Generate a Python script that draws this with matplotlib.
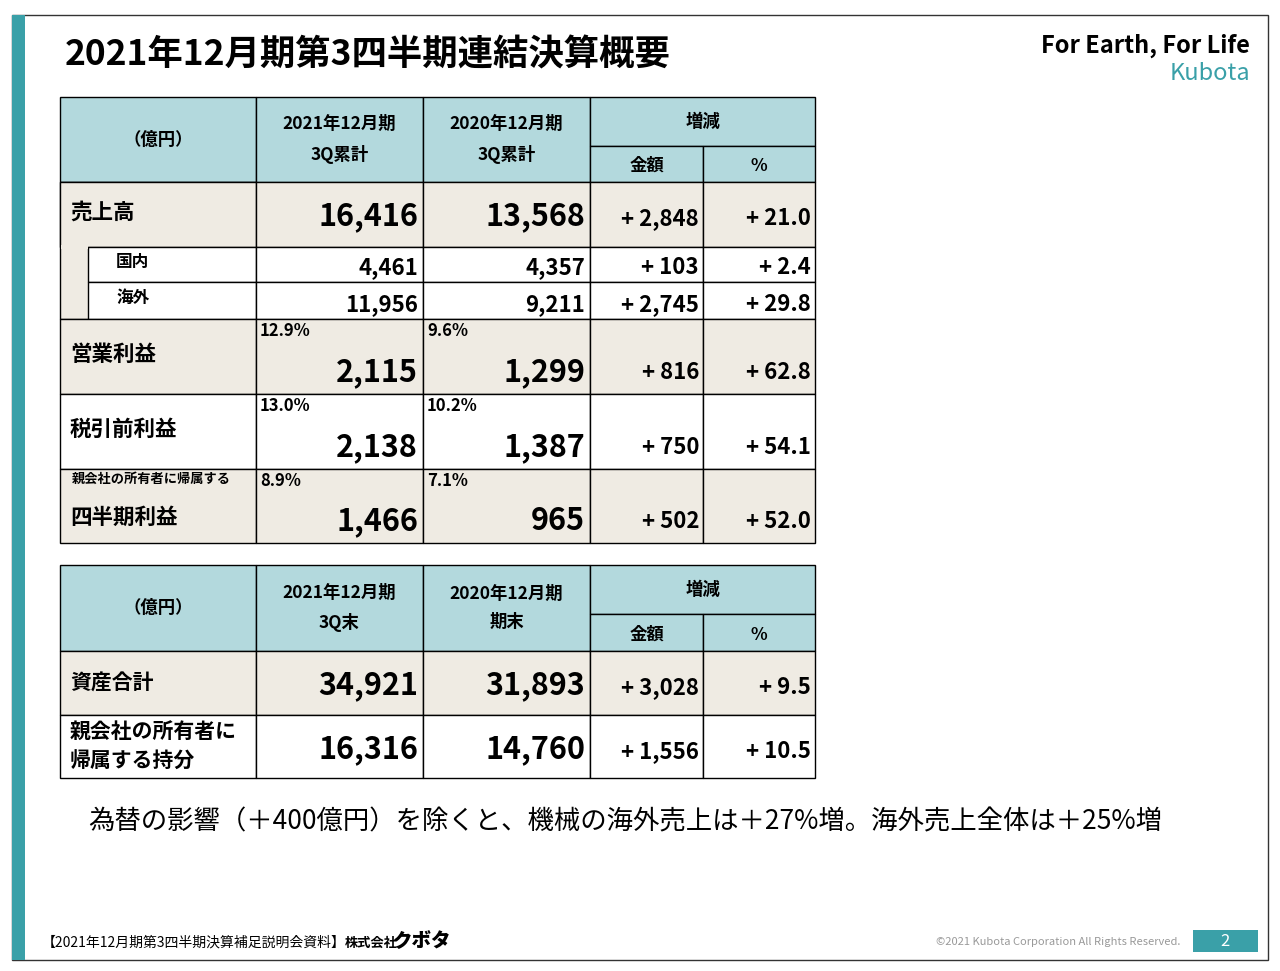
import matplotlib
matplotlib.use("Agg")
import matplotlib.pyplot as plt
from matplotlib.patches import Rectangle

plt.rcParams['font.family'] = ['Noto Sans CJK JP', 'DejaVu Sans']

title = "2021年12月期第3四半期連結決算概要"
labels1 = ["売上高", "国内", "海外", "営業利益", "税引前利益", "四半期利益"]
cur1 = ["16,416", "4,461", "11,956", "2,115", "2,138", "1,466"]
prev1 = ["13,568", "4,357", "9,211", "1,299", "1,387", "965"]
diff1 = ["+ 2,848", "+ 103", "+ 2,745", "+ 816", "+ 750", "+ 502"]
pct1 = ["+ 21.0", "+ 2.4", "+ 29.8", "+ 62.8", "+ 54.1", "+ 52.0"]
margin_cur = [None, None, None, "12.9%", "13.0%", "8.9%"]
margin_prev = [None, None, None, "9.6%", "10.2%", "7.1%"]
labels2 = ["資産合計", "親会社の所有者に\n帰属する持分"]
cur2 = ["34,921", "16,316"]
prev2 = ["31,893", "14,760"]
diff2 = ["+ 3,028", "+ 1,556"]
pct2 = ["+ 9.5", "+ 10.5"]

HDR = "#b3d9dd"; BEI = "#efebe3"; TEAL = "#3aa0a8"
fig = plt.figure(figsize=(12.8, 9.71), dpi=100)
ax = fig.add_axes([0, 0, 1, 1]); ax.set_xlim(0, 1280); ax.set_ylim(971, 0); ax.axis('off')

ax.add_patch(Rectangle((12, 15), 1256, 945, fill=False, ec="#333333", lw=1))
ax.add_patch(Rectangle((12, 15), 13, 945, fc=TEAL, ec="none"))
ax.text(65, 55, title, fontsize=25.5, fontweight='bold', va='center')
ax.text(1250, 46, "For Earth, For Life", fontsize=17, fontweight='bold', ha='right', va='center')
ax.text(1250, 73, "Kubota", fontsize=17, color=TEAL, ha='right', va='center')

X = [60, 256, 423, 590, 703, 815]

def cell(x0, y0, x1, y1, fc):
    ax.add_patch(Rectangle((x0, y0), x1 - x0, y1 - y0, fc=fc, ec="black", lw=1))

def header(y0, ysplit, y1, c1, c2):
    cell(X[0], y0, X[1], y1, HDR)
    cell(X[1], y0, X[2], y1, HDR)
    cell(X[2], y0, X[3], y1, HDR)
    cell(X[3], y0, X[5], ysplit, HDR)
    cell(X[3], ysplit, X[4], y1, HDR)
    cell(X[4], ysplit, X[5], y1, HDR)
    kw = dict(fontsize=12.5, fontweight='bold', ha='center', va='center', linespacing=1.75)
    ax.text((X[0] + X[1]) / 2, (y0 + y1) / 2, "（億円）", **kw)
    ax.text((X[1] + X[2]) / 2, (y0 + y1) / 2, c1, **kw)
    ax.text((X[2] + X[3]) / 2, (y0 + y1) / 2, c2, **kw)
    ax.text((X[3] + X[5]) / 2, (y0 + ysplit) / 2, "増減", **kw)
    ax.text((X[3] + X[4]) / 2, (ysplit + y1) / 2 + 2, "金額", **kw)
    ax.text((X[4] + X[5]) / 2, (ysplit + y1) / 2 + 2, "%", **kw)

# Table 1
header(97, 146, 182, "2021年12月期\n3Q累計", "2020年12月期\n3Q累計")
Y1 = [182, 247, 282, 319, 394, 469, 543]
fills1 = [BEI, "white", "white", BEI, "white", BEI]
ax.add_patch(Rectangle((X[0], 182), X[1] - X[0], 137, fc=BEI, ec="black", lw=1))
for i in range(len(labels1)):
    y0, y1 = Y1[i], Y1[i + 1]
    sub = i in (1, 2)
    xl = 88 if sub else X[0]
    cell(xl, y0, X[1], y1, "white" if sub else fills1[i])
    if i == 0:
        ax.add_patch(Rectangle((X[0] + 1, y1 - 2), 27, 4, fc=BEI, ec="none", zorder=3))
    for c in range(1, 5):
        cell(X[c], y0, X[c + 1], y1, fills1[i])
    big = not sub
    fs = 22 if big else 16
    if i == 0:
        base = y0 + 43
    elif sub:
        base = y1 - 8
    else:
        base = y1 - 13
    dbase = base if (i < 3) else base - 2
    lab_fs = 15.5 if big else 12
    if i == 5:
        ax.text(X[0] + 12, y0 + 10, "親会社の所有者に帰属する", fontsize=9.5, fontweight='bold', va='center')
        ax.text(X[0] + 10, y0 + 48, labels1[i], fontsize=lab_fs, fontweight='bold', va='center')
    else:
        ax.text(xl + (28 if sub else 10), (y0 + y1) / 2 - (2 if not sub else 3), labels1[i], fontsize=lab_fs, fontweight='bold', va='center')
    ax.text(X[2] - 5, base, cur1[i], fontsize=fs, fontweight='bold', ha='right', va='baseline')
    ax.text(X[3] - 5, base, prev1[i], fontsize=fs, fontweight='bold', ha='right', va='baseline')
    ax.text(X[4] - 4, dbase, diff1[i], fontsize=16, fontweight='bold', ha='right', va='baseline')
    ax.text(X[5] - 4, dbase, pct1[i], fontsize=16, fontweight='bold', ha='right', va='baseline')
    if margin_cur[i]:
        ax.text(X[1] + 4, y0 + 12, margin_cur[i], fontsize=12, fontweight='bold', va='center')
        ax.text(X[2] + 4, y0 + 12, margin_prev[i], fontsize=12, fontweight='bold', va='center')

# Table 2
header(565, 614, 651, "2021年12月期\n3Q末", "2020年12月期\n期末")
Y2 = [651, 715, 778]
fills2 = [BEI, "white"]
for i in range(len(labels2)):
    y0, y1 = Y2[i], Y2[i + 1]
    for c in range(5):
        cell(X[c], y0, X[c + 1], y1, fills2[i])
    ax.text(X[0] + 10, (y0 + y1) / 2, labels2[i], fontsize=15, fontweight='bold', va='center', linespacing=1.5)
    base = y0 + 43
    ax.text(X[2] - 5, base, cur2[i], fontsize=22, fontweight='bold', ha='right', va='baseline')
    ax.text(X[3] - 5, base, prev2[i], fontsize=22, fontweight='bold', ha='right', va='baseline')
    ax.text(X[4] - 4, base, diff2[i], fontsize=16, fontweight='bold', ha='right', va='baseline')
    ax.text(X[5] - 4, base, pct2[i], fontsize=16, fontweight='bold', ha='right', va='baseline')

ax.text(88, 822, "為替の影響（＋400億円）を除くと、機械の海外売上は＋27%増。海外売上全体は＋25%増", fontsize=19, va='center')

ax.text(42, 943, "【2021年12月期第3四半期決算補足説明会資料】", fontsize=10, va='center')
ax.text(345, 943, "株式会社", fontsize=9.5, fontweight='bold', va='center')
ax.text(393, 942, "クボタ", fontsize=14, fontweight='black', va='center')
ax.text(1180, 942, "©2021 Kubota Corporation All Rights Reserved.", fontsize=8, color="#999999", ha='right', va='center')
ax.add_patch(Rectangle((1193, 930), 65, 22, fc=TEAL, ec="none"))
ax.text(1225, 941, "2", fontsize=12, color="white", ha='center', va='center')

fig.savefig("out.png", dpi=100, facecolor="white")
